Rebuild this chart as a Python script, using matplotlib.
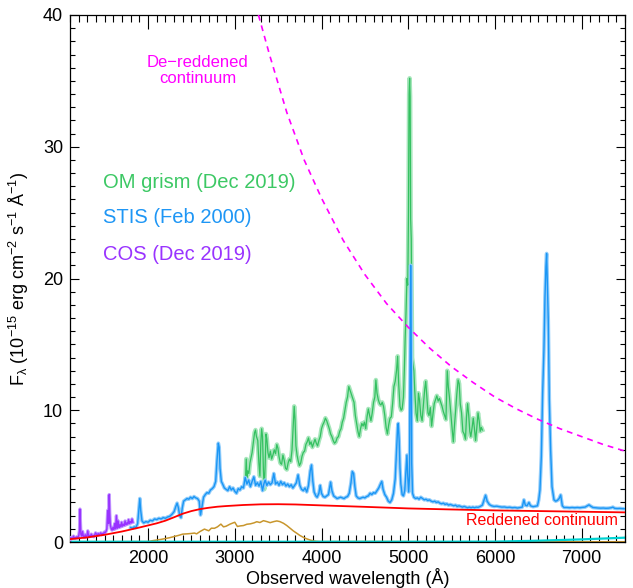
import matplotlib
matplotlib.use("Agg")
import matplotlib.pyplot as plt
from matplotlib.ticker import MultipleLocator

plt.rcParams['font.family'] = ['Liberation Sans', 'DejaVu Sans']
plt.rcParams['mathtext.fontset'] = 'custom'
plt.rcParams['mathtext.rm'] = 'Liberation Sans'
plt.rcParams['mathtext.it'] = 'Liberation Sans:italic'
plt.rcParams['mathtext.default'] = 'regular'

# COS (Dec 2019)
cos_wl = [1100, 1110, 1120, 1130, 1140, 1150, 1160, 1170, 1180, 1190, 1200, 1210, 1215, 1220,
          1225, 1235, 1245, 1255, 1265, 1275, 1285, 1295, 1305, 1315, 1325, 1335, 1345, 1355,
          1365, 1375, 1385, 1395, 1405, 1415, 1425, 1435, 1445, 1455, 1465, 1475, 1485, 1495,
          1505, 1515, 1525, 1535, 1545, 1552, 1558, 1565, 1575, 1585, 1595, 1605, 1615, 1625,
          1635, 1645, 1655, 1665, 1675, 1685, 1695, 1705, 1715, 1725, 1735, 1745, 1755, 1765,
          1775, 1785, 1795, 1805, 1815, 1825]
cos_flux = [0.20, 0.35, 0.25, 0.30, 0.45, 0.28, 0.35, 0.30, 0.40, 0.32, 0.45, 0.90, 2.50, 1.50,
            0.60, 0.45, 0.80, 0.40, 0.35, 0.55, 0.38, 0.45, 0.85, 0.40, 0.50, 0.42, 0.60, 0.45,
            0.50, 0.40, 0.55, 0.70, 0.60, 0.50, 0.65, 0.55, 0.60, 0.70, 0.55, 0.65, 0.60, 0.75,
            0.70, 0.80, 1.00, 2.40, 1.40, 3.60, 2.20, 1.30, 1.00, 0.90, 1.10, 0.95, 1.40, 1.00,
            2.00, 1.05, 1.60, 1.10, 1.30, 1.15, 1.50, 1.20, 1.35, 1.25, 1.60, 1.30, 1.45, 1.35,
            1.70, 1.40, 1.55, 1.45, 1.75, 1.50]

# STIS (Feb 2000)
stis_wl = [1800, 1820, 1840, 1860, 1880, 1895, 1905, 1915, 1930, 1950, 1975, 2000, 2025, 2050,
           2075, 2100, 2125, 2150, 2175, 2200, 2225, 2250, 2275, 2300, 2320, 2335, 2350, 2365,
           2380, 2395, 2410, 2430, 2450, 2470, 2490, 2510, 2530, 2550, 2570, 2590, 2605, 2620,
           2640, 2660, 2680, 2700, 2720, 2740, 2760, 2780, 2795, 2810, 2820, 2830, 2845, 2860,
           2880, 2900, 2920, 2940, 2960, 2980, 3000, 3020, 3040, 3060, 3080, 3100, 3120, 3140,
           3160, 3180, 3200, 3220, 3240, 3260, 3280, 3300, 3320, 3335, 3350, 3370, 3390, 3410,
           3430, 3450, 3470, 3490, 3510, 3530, 3550, 3570, 3590, 3610, 3630, 3650, 3670, 3690,
           3710, 3730, 3750, 3770, 3790, 3810, 3830, 3850, 3870, 3885, 3900, 3915, 3935, 3950,
           3970, 3985, 4000, 4020, 4040, 4060, 4080, 4095, 4105, 4120, 4140, 4160, 4180, 4200,
           4220, 4240, 4260, 4280, 4300, 4320, 4340, 4355, 4370, 4385, 4400, 4420, 4440, 4460,
           4480, 4500, 4520, 4540, 4560, 4580, 4600, 4620, 4640, 4660, 4680, 4695, 4710, 4730,
           4750, 4770, 4790, 4810, 4830, 4850, 4865, 4878, 4885, 4895, 4905, 4915, 4930, 4945,
           4960, 4975, 4985, 4993, 5005, 5015, 5022, 5028, 5034, 5040, 5050, 5065, 5085, 5105,
           5125, 5145, 5165, 5185, 5205, 5225, 5245, 5265, 5285, 5305, 5325, 5345, 5365, 5385,
           5405, 5425, 5445, 5465, 5485, 5505, 5525, 5545, 5565, 5585, 5605, 5625, 5645, 5665,
           5685, 5705, 5725, 5745, 5765, 5785, 5805, 5830, 5855, 5875, 5892, 5910, 5935, 5960,
           5990, 6020, 6050, 6080, 6110, 6140, 6170, 6200, 6230, 6260, 6290, 6315, 6334, 6350,
           6370, 6392, 6410, 6440, 6470, 6490, 6505, 6519, 6535, 6550, 6565, 6577, 6588, 6596,
           6604, 6615, 6627, 6642, 6658, 6681, 6700, 6719, 6740, 6758, 6777, 6796, 6830, 6860,
           6890, 6920, 6950, 6980, 7010, 7040, 7065, 7084, 7105, 7130, 7160, 7190, 7220, 7250,
           7280, 7310, 7340, 7360, 7380, 7410, 7440, 7470, 7500]
stis_flux = [1.10, 1.05, 1.15, 1.10, 1.40, 2.60, 3.30, 2.40, 1.60, 1.45, 1.55, 1.50, 1.65, 1.60,
             1.75, 1.70, 1.80, 1.75, 1.85, 1.80, 1.90, 1.95, 2.10, 2.30, 2.70, 2.95, 2.60, 2.00,
             1.85, 2.60, 3.10, 3.20, 3.30, 3.25, 3.40, 3.30, 3.45, 3.35, 3.30, 3.10, 2.05, 2.60,
             3.40, 3.60, 3.75, 3.70, 3.95, 4.05, 4.20, 4.60, 6.20, 7.50, 7.20, 5.60, 4.60, 4.40,
             4.10, 4.00, 3.90, 4.20, 3.95, 4.10, 3.85, 3.70, 4.05, 3.95, 4.20, 4.10, 4.90, 4.40,
             4.70, 4.20, 4.60, 4.95, 4.30, 4.50, 4.25, 4.60, 3.90, 4.40, 4.70, 4.30, 4.55, 4.35,
             4.50, 5.20, 4.40, 4.55, 4.30, 4.60, 4.35, 4.50, 4.25, 4.40, 4.20, 4.35, 4.10, 4.30,
             4.50, 5.10, 4.30, 4.00, 3.90, 4.10, 3.80, 4.30, 5.40, 5.85, 4.60, 3.80, 3.50, 3.40,
             3.70, 4.30, 3.70, 3.45, 3.40, 3.50, 3.60, 4.20, 4.55, 3.90, 3.50, 3.40, 3.30, 3.35,
             3.40, 3.35, 3.30, 3.40, 3.45, 3.70, 4.50, 5.35, 5.20, 4.20, 3.50, 3.35, 3.30, 3.35,
             3.40, 3.35, 3.45, 3.50, 3.70, 3.60, 3.75, 3.70, 3.90, 4.10, 4.40, 4.60, 4.00, 3.60,
             3.40, 3.10, 3.00, 3.20, 3.70, 4.80, 6.80, 8.70, 9.00, 7.80, 5.60, 4.40, 3.60, 3.50,
             3.90, 5.50, 6.60, 5.20, 3.80, 5.00, 14.0, 21.0, 16.0, 6.00, 3.70, 3.40, 3.30, 3.35,
             3.25, 3.40, 3.30, 3.20, 3.25, 3.15, 3.20, 3.10, 3.05, 3.10, 3.00, 3.05, 2.95, 2.90,
             2.95, 2.85, 2.90, 2.80, 2.85, 2.80, 2.75, 2.80, 2.70, 2.75, 2.70, 2.65, 2.70, 2.65,
             2.60, 2.65, 2.60, 2.65, 2.60, 2.65, 2.63, 2.70, 2.80, 3.20, 3.55, 3.10, 2.85, 2.75,
             2.70, 2.72, 2.68, 2.65, 2.66, 2.62, 2.64, 2.60, 2.62, 2.58, 2.62, 2.65, 3.20, 2.80,
             2.75, 3.00, 2.75, 2.68, 2.72, 2.75, 3.20, 3.95, 6.50, 11.3, 14.6, 18.6, 20.9, 21.9,
             19.8, 16.8, 10.8, 7.00, 4.20, 3.20, 3.10, 3.15, 3.30, 3.57, 2.75, 2.62, 2.62, 2.60,
             2.62, 2.60, 2.62, 2.60, 2.63, 2.65, 2.75, 2.82, 2.72, 2.62, 2.60, 2.58, 2.57, 2.58,
             2.56, 2.57, 2.60, 2.65, 2.56, 2.54, 2.55, 2.53, 2.52]

# OM grism (Dec 2019)
om_wl = [3125, 3132, 3140, 3150, 3162, 3175, 3188, 3200, 3215, 3228, 3239, 3250, 3265, 3278,
         3290, 3300, 3310, 3320, 3330, 3340, 3350, 3360, 3370, 3382, 3395, 3410, 3425, 3440,
         3455, 3470, 3485, 3498, 3510, 3525, 3540, 3555, 3570, 3585, 3600, 3615, 3630, 3645,
         3660, 3675, 3685, 3695, 3705, 3718, 3730, 3745, 3760, 3775, 3790, 3805, 3820, 3835,
         3850, 3865, 3880, 3895, 3910, 3925, 3940, 3955, 3970, 3985, 4000, 4015, 4030, 4045,
         4060, 4075, 4090, 4105, 4120, 4135, 4150, 4165, 4180, 4195, 4210, 4225, 4240, 4255,
         4270, 4285, 4300, 4315, 4330, 4345, 4360, 4375, 4390, 4405, 4420, 4435, 4450, 4465,
         4480, 4495, 4510, 4525, 4540, 4555, 4570, 4585, 4600, 4615, 4627, 4640, 4655, 4670,
         4685, 4700, 4715, 4730, 4745, 4760, 4775, 4790, 4805, 4820, 4835, 4850, 4865, 4878,
         4890, 4905, 4918, 4930, 4945, 4955, 4965, 4975, 4985, 4995, 5003, 5010, 5016, 5022,
         5028, 5035, 5045, 5055, 5065, 5075, 5090, 5105, 5118, 5130, 5145, 5160, 5175, 5190,
         5202, 5215, 5228, 5240, 5255, 5270, 5285, 5300, 5315, 5330, 5345, 5360, 5375, 5390,
         5405, 5420, 5435, 5450, 5462, 5475, 5490, 5505, 5520, 5535, 5547, 5560, 5575, 5588,
         5600, 5615, 5630, 5645, 5660, 5672, 5685, 5698, 5710, 5722, 5735, 5750, 5762, 5777,
         5790, 5805, 5818, 5830, 5843, 5855]
om_flux = [5.0, 6.3, 4.9, 5.4, 5.2, 6.0, 6.4, 6.8, 7.6, 8.3, 8.5, 8.0, 7.7, 6.0,
           5.0, 7.5, 8.6, 8.0, 5.5, 4.0, 5.8, 8.2, 7.8, 6.8, 6.4, 6.9, 6.3, 6.6,
           7.0, 6.7, 7.4, 7.1, 6.5, 6.0, 5.9, 6.6, 6.2, 5.6, 5.5, 6.0, 6.3, 6.1,
           7.0, 9.0, 10.3, 9.3, 7.3, 6.6, 6.2, 5.8, 6.0, 6.5, 6.8, 6.9, 7.4, 7.6,
           7.9, 7.4, 7.6, 7.2, 7.5, 7.8, 7.5, 7.3, 7.7, 8.0, 8.6, 8.9, 9.1, 9.4,
           9.2, 8.9, 8.6, 8.2, 8.0, 7.7, 7.5, 7.6, 7.9, 8.0, 8.4, 8.6, 9.1, 9.4,
           10.0, 10.6, 11.0, 11.8, 11.5, 11.2, 10.9, 10.6, 9.6, 9.0, 8.4, 8.0, 8.6, 9.0,
           8.8, 9.1, 8.6, 9.5, 10.1, 9.6, 9.2, 9.8, 10.6, 11.0, 12.3, 11.3, 10.8, 10.5,
           10.4, 10.6, 10.3, 9.6, 8.7, 8.2, 8.9, 9.4, 9.5, 10.5, 11.8, 12.2, 13.0, 14.1,
           12.0, 10.3, 10.0, 10.1, 11.0, 13.0, 15.5, 17.5, 20.0, 19.5, 25.0, 34.0, 35.2, 33.8,
           24.5, 23.0, 14.0, 13.5, 13.0, 11.5, 9.8, 9.2, 11.3, 10.8, 9.6, 9.2, 10.4, 11.6,
           12.2, 11.0, 9.8, 9.6, 10.2, 8.8, 9.7, 10.5, 10.8, 11.1, 10.7, 10.9, 10.6, 10.3,
           9.9, 9.6, 9.3, 13.0, 11.8, 11.0, 9.8, 8.7, 7.6, 9.0, 10.0, 11.2, 12.3, 12.0,
           10.5, 9.8, 8.4, 8.2, 7.8, 9.5, 10.5, 9.6, 8.4, 8.0, 8.6, 9.4, 8.7, 7.7,
           8.6, 9.8, 9.2, 8.4, 8.7, 8.5]

# reddened continuum
red_wl = [1100, 1300, 1500, 1700, 1900, 2100, 2200, 2300, 2400, 2500, 2600, 2700, 2800, 2900,
          3000, 3100, 3300, 3500, 3700, 4000, 4500, 5000, 5500, 6000, 6500, 7000, 7500]
red_flux = [0.22, 0.35, 0.55, 0.80, 1.10, 1.42, 1.62, 1.88, 2.15, 2.35, 2.50, 2.60, 2.68, 2.73,
            2.77, 2.81, 2.86, 2.87, 2.85, 2.78, 2.67, 2.55, 2.47, 2.40, 2.35, 2.30, 2.25]

# de-reddened continuum
dered_wl = [3273, 3400, 3600, 3800, 4000, 4250, 4500, 4750, 5000, 5250, 5500, 5750, 6000,
            6250, 6500, 6750, 7000, 7250, 7500]
dered_flux = [40.0, 37.0, 32.6, 29.0, 26.1, 22.9, 20.3, 18.1, 16.3, 14.7, 13.3, 12.1, 11.0,
              10.1, 9.3, 8.6, 8.0, 7.4, 6.9]

# brown component
brown_wl = [1100, 2000, 2050, 2150, 2250, 2350, 2400, 2450, 2500, 2535, 2560, 2600, 2650, 2700,
            2730, 2765, 2800, 2840, 2870, 2900, 2946, 2980, 3000, 3030, 3060, 3100, 3140, 3180,
            3220, 3254, 3290, 3331, 3370, 3408, 3450, 3485, 3520, 3562, 3600, 3639, 3680, 3716,
            3750, 3792, 3830, 3869, 3910, 3946, 4000, 4500, 5000, 5500, 6000, 7500]
brown_flux = [0.02, 0.03, 0.10, 0.20, 0.33, 0.50, 0.60, 0.62, 0.65, 0.68, 0.62, 0.80, 0.98, 0.85,
              1.05, 1.04, 1.15, 1.36, 1.15, 1.20, 1.36, 1.45, 1.50, 1.18, 1.22, 1.25, 1.35, 1.38,
              1.45, 1.54, 1.48, 1.62, 1.55, 1.47, 1.55, 1.60, 1.55, 1.42, 1.25, 1.04, 0.82, 0.66,
              0.50, 0.35, 0.24, 0.15, 0.08, 0.05, 0.03, 0.04, 0.03, 0.02, 0.02, 0.02]

# cyan component
cyan_wl = [1100, 3000, 5000, 6000, 6500, 7000, 7500]
cyan_flux = [0.02, 0.02, 0.02, 0.03, 0.10, 0.20, 0.33]

fig = plt.figure(figsize=(6.33, 5.88), dpi=100)
ax = fig.add_axes([0.1106, 0.0782, 0.8768, 0.8963])

ax.plot(brown_wl, brown_flux, color='#c8962d', lw=1.1, zorder=2)
ax.plot(cyan_wl, cyan_flux, color='#00d2d2', lw=1.6, zorder=2)

ax.plot(om_wl, om_flux, color='#a6e6bb', lw=3.2, zorder=3)
ax.plot(om_wl, om_flux, color='#33c060', lw=0.9, zorder=3)
ax.plot(stis_wl, stis_flux, color='#92cdfb', lw=2.6, zorder=4)
ax.plot(stis_wl, stis_flux, color='#1a96f5', lw=1.0, zorder=4)
ax.plot(cos_wl, cos_flux, color='#c49bff', lw=2.4, zorder=4)
ax.plot(cos_wl, cos_flux, color='#9933ff', lw=1.0, zorder=4)

ax.plot(red_wl, red_flux, color='#ff0000', lw=1.3, zorder=5)
ax.plot(dered_wl, dered_flux, color='#ff00ff', lw=1.2, dashes=(3.5, 3), zorder=5)

ax.text(2569, 35.8, 'De\u2212reddened\ncontinuum', color='#ff00ff', fontsize=12,
        ha='center', va='center', linespacing=1.05)
ax.text(7415, 1.6, 'Reddened continuum', color='#ff0000', fontsize=11.5,
        ha='right', va='center')
ax.text(1484, 27.3, 'OM grism (Dec 2019)', color='#3cc864', fontsize=14.5, va='center')
ax.text(1484, 24.6, 'STIS (Feb 2000)', color='#1e96f5', fontsize=14.5, va='center')
ax.text(1484, 21.8, 'COS (Dec 2019)', color='#9933ff', fontsize=14.5, va='center')

ax.set_xlim(1100, 7500)
ax.set_ylim(0, 40)
ax.xaxis.set_major_locator(MultipleLocator(1000))
ax.xaxis.set_minor_locator(MultipleLocator(100))
ax.yaxis.set_major_locator(MultipleLocator(10))
ax.yaxis.set_minor_locator(MultipleLocator(1))
ax.tick_params(which='both', direction='in', top=True, right=True, width=0.8, labelsize=13)
ax.tick_params(axis='x', which='major', length=10, pad=6)
ax.tick_params(axis='x', which='minor', length=5)
ax.tick_params(axis='y', which='major', length=6.5, pad=5)
ax.tick_params(axis='y', which='minor', length=3.5)
for s in ax.spines.values():
    s.set_linewidth(0.9)

ax.set_xlabel('Observed wavelength (Å)', fontsize=13)
ax.set_ylabel('F$_\\lambda$ (10$^{-15}$ erg cm$^{-2}$ s$^{-1}$ Å$^{-1}$)', fontsize=13)
ax.xaxis.set_label_coords(0.5, -0.05)
ax.yaxis.set_label_coords(-0.07, 0.5)

fig.savefig('out.png', dpi=100)
